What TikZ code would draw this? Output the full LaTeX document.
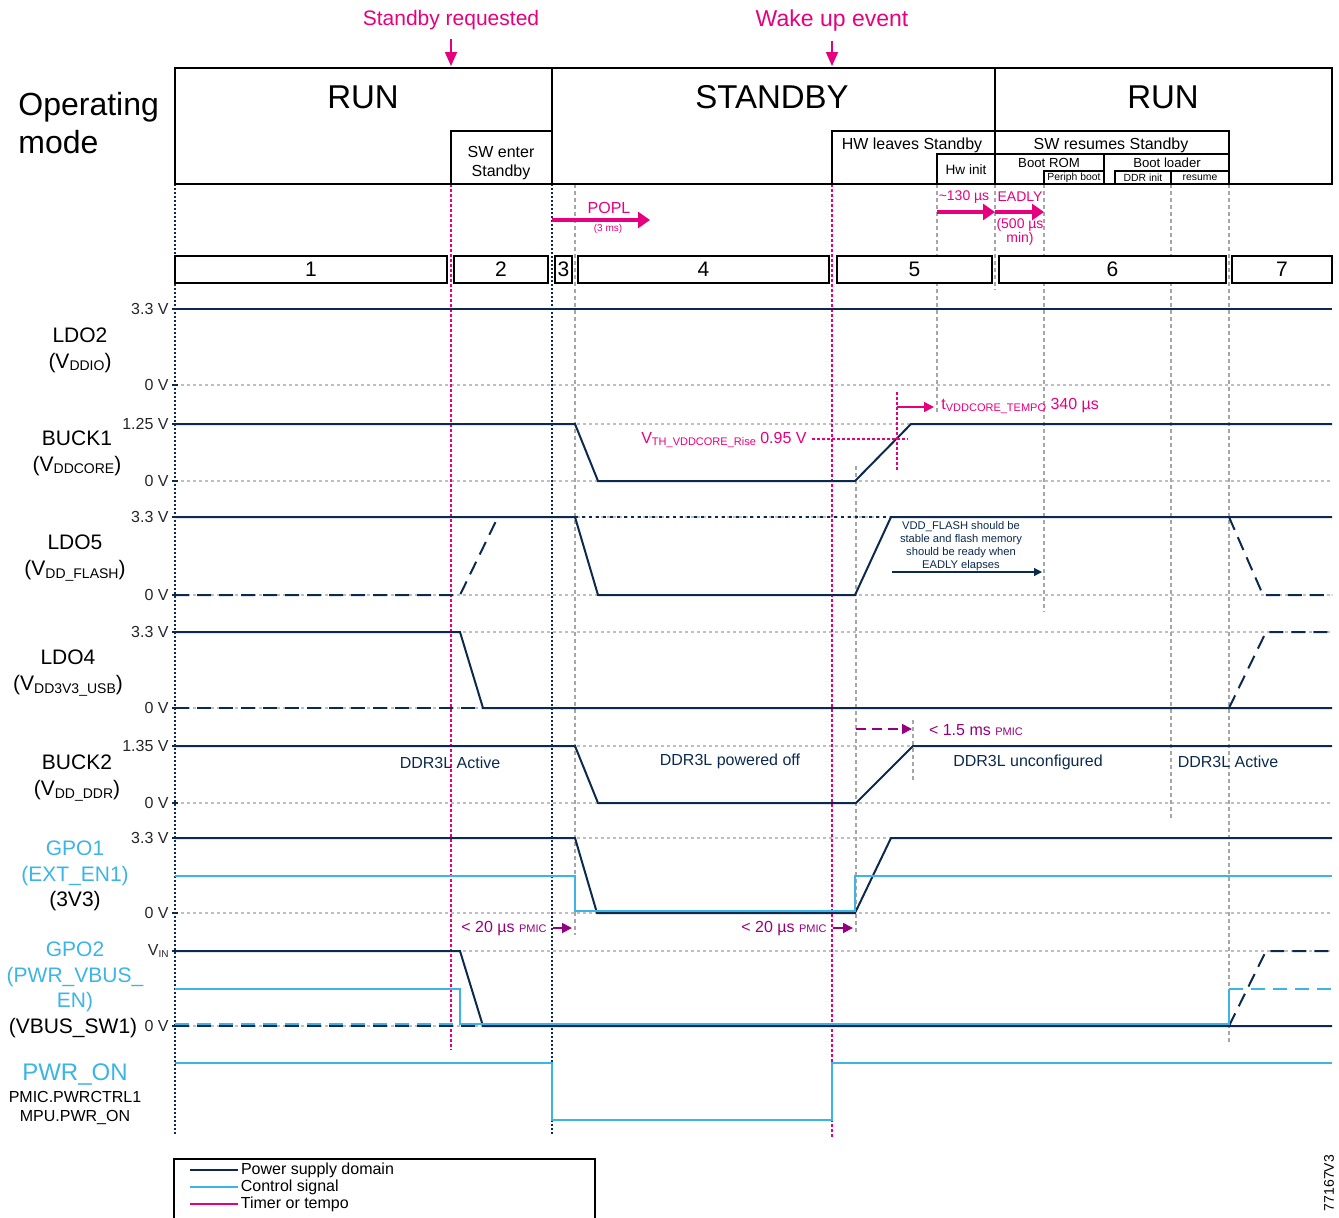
\documentclass[tikz,border=0pt]{standalone}
\usepackage{fontspec}
\setmainfont{Liberation Sans}
\usepackage{xcolor}
\usetikzlibrary{arrows.meta,positioning}

\definecolor{stnavy}{HTML}{0B2A4E}
\definecolor{stblue}{HTML}{3CB4E6}
\definecolor{stpink}{HTML}{E6007E}
\definecolor{stpurple}{HTML}{960080}

\newcommand\fs[2]{\fontsize{#1}{#2}\selectfont}
\newcommand\lo[2]{\raisebox{-0.12em}{\fontsize{#1}{#1}\selectfont #2}}
\newcommand\sm[2]{{\fontsize{#1}{#1}\selectfont #2}}

\begin{document}
\begin{tikzpicture}[
    x=0.5pt, y=-0.5pt,
    >=Latex,
    font=\fs{8}{9.5},
    mode/.style={draw, line width=0.9pt},
    phase/.style={draw, line width=0.9pt, fill=white, inner sep=0pt,
                  minimum height=13.5pt, font=\fs{10.5}{12}},
    big/.style={font=\fs{16.5}{19}},
    pwr/.style={stnavy, line width=1pt},
    pwrdash/.style={pwr, dash pattern=on 7pt off 4pt},
    ctl/.style={stblue, line width=0.9pt},
    ctldash/.style={ctl, dash pattern=on 7pt off 4pt},
    gridln/.style={gray!50, line width=0.6pt, dash pattern=on 1.5pt off 1.5pt},
    guide/.style={gray!70, line width=0.7pt, dash pattern=on 2pt off 1.5pt},
    axis/.style={stnavy, line width=0.8pt, dash pattern=on 1pt off 1pt},
    evline/.style={stpink, line width=0.8pt, dash pattern=on 1.5pt off 1pt},
    evarr/.style={stpink, line width=0.9pt, -{Triangle[length=7pt,width=6pt]}},
    tmr/.style={stpink, line width=1.6pt, -{Triangle[length=6pt,width=8pt]}},
    thinarr/.style={stpink, line width=0.8pt, -{Triangle[length=5pt,width=5pt]}},
    pmic/.style={stpurple, font=\fs{8}{9}},
    pmicarr/.style={stpurple, line width=0.9pt, -{Triangle[length=5pt,width=5pt]}},
    volt/.style={anchor=east, inner sep=1pt, font=\fs{8}{9}, black!85},
    sname/.style={align=center, font=\fs{10.5}{13}},
    ddr/.style={stnavy, font=\fs{8}{9}},
    tiny/.style={font=\fs{5.2}{6}, inner sep=0pt}
]
\useasboundingbox (0,0) rectangle (1339,1217);
% --- grid and guides -------------------------------------------------
\foreach \gy in {385,424,481,517,595,632,708,746,803,838,913,951,1026}
    \draw[gridln] (175,\gy) -- (1332,\gy);
\draw[guide] (575,184) -- (575,935);
\draw[guide] (856,466) -- (856,935);
\draw[guide] (937,184) -- (937,412);
\draw[guide] (995,184) -- (995,290);
\draw[guide] (1044,184) -- (1044,612);
\draw[guide] (1171,184) -- (1171,820);
\draw[guide] (1229,184) -- (1229,1045);
\draw[guide] (913,720) -- (913,780);
\draw[axis] (175,184) -- (175,1135);
\draw[axis] (552,184) -- (552,1135);
\draw[evline] (451,184) -- (451,1050);
\draw[evline] (832,184) -- (832,1137);
% --- operating mode header -------------------------------------------
\node[anchor=west, align=left, inner sep=0pt, font=\fs{16}{19}] (opmode) at (18,123) {Operating\\mode};
\draw[mode] (175,68) rectangle (1332,184);
\draw[mode] (552,68) -- (552,184);
\draw[mode] (995,68) -- (995,184);
\draw[mode] (451,131) rectangle (552,184);
\draw[mode] (832,131) rectangle (995,184);
\draw[mode] (937,154) rectangle (995,184);
\draw[mode] (995,131) rectangle (1229,184);
\draw[mode] (995,154) -- (1229,154);
\draw[mode] (1104,154) -- (1104,184);
\draw[mode] (1044,171) rectangle (1104,184);
\draw[mode] (1115,171) rectangle (1229,184);
\draw[mode] (1171,171) -- (1171,184);
\node[big] (run1) at (363,97) {RUN};
\node[big] (stby) at (772,97) {STANDBY};
\node[big] (run2) at (1163,97) {RUN};
\node[align=center, font=\fs{8}{9.5}] (swenter) at (501,163) {SW enter\\Standby};
\node (hwleave) at (912,145) {HW leaves Standby};
\node[font=\fs{6.8}{8}] (hwinit) at (966,170) {Hw init};
\node (swres) at (1111,145) {SW resumes Standby};
\node[font=\fs{6.6}{8}] (bootrom) at (1049,162.5) {Boot ROM};
\node[font=\fs{6.6}{8}] (bootldr) at (1167,162.5) {Boot loader};
\node[tiny] (periph) at (1074,178) {Periph boot};
\node[tiny] (ddrinit) at (1143,178) {DDR init};
\node[tiny] (resume) at (1200,178) {resume};
% --- events ----------------------------------------------------------
\node[stpink, font=\fs{10.5}{12}] (sbreq) at (451,20) {Standby requested};
\node[stpink, font=\fs{11.5}{13}] (wake) at (832,21) {Wake up event};
\coordinate (sbtip) at (451,66);
\coordinate (wktip) at (832,66);
\draw[evarr, shorten <=1pt] (sbreq.south) -- (sbtip);
\draw[evarr, shorten <=1pt] (wake.south) -- (wktip);
% --- timers ----------------------------------------------------------
\draw[tmr] (552,220) -- (650,220);
\node[stpink] (popl) at (609,208) {POPL};
\node[stpink, font=\fs{5}{6}] (popltime) at (608,229) {(3 ms)};
\draw[tmr] (937,212) -- (995,212);
\draw[tmr] (995,212) -- (1044,212);
\node[stpink, font=\fs{7}{8}] (hwtime) at (964,197) {\textasciitilde130 µs};
\node[stpink, font=\fs{7}{8}] (eadly) at (1020,197) {EADLY};
\node[stpink, align=center, font=\fs{7}{7}] (eadlymin) at (1020,232) {(500 µs\\min)};
% --- phases ----------------------------------------------------------
\foreach \i/\cx/\w in {1/311/136, 2/501/47, 3/563.5/8.5, 4/703.5/125.5,
                       5/914.5/77.5, 6/1112.5/113.5, 7/1282/50}
    \node[phase, minimum width=\w pt] (p\i) at (\cx,269.5) {\i};
% --- signal names and levels -----------------------------------------
\node[sname] (ldo2) at (80,350) {LDO2\\(V\lo{7}{DDIO})};
\node[sname] (buck1) at (77,453) {BUCK1\\(V\lo{7}{DDCORE})};
\node[sname] (ldo5) at (75,558) {LDO5\\(V\lo{7}{DD\_FLASH})};
\node[sname] (ldo4) at (68,673) {LDO4\\(V\lo{7}{DD3V3\_USB})};
\node[sname] (buck2) at (77,778) {BUCK2\\(V\lo{7}{DD\_DDR})};
\node[sname, font=\fs{10.5}{12.75}] (gpo1) at (75,876)
    {\textcolor{stblue}{GPO1}\\\textcolor{stblue}{(EXT\_EN1)}\\(3V3)};
\node[sname, stblue, font=\fs{10.5}{12.75}] (gpo2) at (75,977) {GPO2\\(PWR\_VBUS\_\\EN)};
\node[sname] (vbus) at (73,1028) {(VBUS\_SW1)};
\node[stblue, font=\fs{12}{13}] (pwron) at (75,1074) {PWR\_ON};
\node[align=center, font=\fs{8}{9.5}] (pwronsub) at (75,1108) {PMIC.PWRCTRL1\\MPU.PWR\_ON};
\foreach \vy/\vt in {309/3.3 V, 385/0 V, 424/1.25 V, 481/0 V, 517/3.3 V, 595/0 V,
                     632/3.3 V, 708/0 V, 746/1.35 V, 803/0 V, 838/3.3 V, 913/0 V,
                     951/{V\lo{5}{IN}}, 1026/0 V}{
    \node[volt] (v\vy) at (171,\vy) {\vt};
    \draw[stnavy, line width=0.8pt] (172,\vy) -- (178,\vy);
}
% --- LDO2 ------------------------------------------------------------
\draw[pwr] (175,309) -- (1332,309);
% --- BUCK1 -----------------------------------------------------------
\draw[pwr] (175,424) -- (575,424) -- (598,481) -- (855,481) -- (911,424) -- (1332,424);
\draw[evline] (812,439) -- (908,439);
\draw[evline] (897,392) -- (897,470);
\node[anchor=east, stpink, inner sep=1pt] (vth) at (809,440) {V\lo{5.5}{TH\_VDDCORE\_Rise} 0.95 V};
\draw[thinarr] (897,407) -- (934,407);
\node[anchor=west, stpink, inner sep=1pt] (tempo) at (939,406) {t\lo{5.5}{VDDCORE\_TEMPO} 340 µs};
% --- LDO5 ------------------------------------------------------------
\draw[pwr] (175,517) -- (575,517) -- (598,595) -- (855,595) -- (891,517) -- (1332,517);
\draw[pwr, dash pattern=on 1.5pt off 2pt] (575,517) -- (891,517);
\draw[pwrdash] (175,595) -- (460,595) -- (497,519);
\draw[pwrdash] (1229,517) -- (1263,595) -- (1332,595);
\node[stnavy, align=center, font=\fs{5.6}{6.5}] (flashnote) at (961,546)
    {VDD\_FLASH should be\\stable and flash memory\\should be ready when\\EADLY elapses};
\draw[stnavy, line width=0.6pt, -{Triangle[length=4pt,width=4pt]}] (892,572) -- (1042,572);
% --- LDO4 ------------------------------------------------------------
\draw[pwr] (175,632) -- (460,632) -- (483,708) -- (1332,708);
\draw[pwrdash] (175,708) -- (483,708);
\draw[pwrdash] (1229,708) -- (1266,632) -- (1332,632);
% --- BUCK2 -----------------------------------------------------------
\draw[pwr] (175,746) -- (575,746) -- (598,803) -- (856,803) -- (913,746) -- (1332,746);
\node[ddr] (ddr1) at (450,763) {DDR3L Active};
\node[ddr] (ddr2) at (730,761) {DDR3L powered off};
\node[ddr] (ddr3) at (1028,762) {DDR3L unconfigured};
\node[ddr] (ddr4) at (1228,762) {DDR3L Active};
\draw[pmicarr, dash pattern=on 5pt off 3pt] (856,729) -- (912,729);
\node[pmic, anchor=west] (pmic15) at (922,730) {< 1.5 ms \sm{5.5}{PMIC}};
% --- GPO1 ------------------------------------------------------------
\draw[pwr] (175,838) -- (575,838) -- (597,913) -- (855,913) -- (891,838) -- (1332,838);
\draw[ctl] (175,876) -- (575,876) -- (575,911) -- (855,911) -- (855,876) -- (1332,876);
\node[pmic, anchor=east, inner sep=1pt] (pmic20a) at (549,929) {< 20 µs \sm{5.5}{PMIC}};
\draw[pmicarr] (553,928) -- (572,928);
\node[pmic, anchor=east, inner sep=1pt] (pmic20b) at (829,929) {< 20 µs \sm{5.5}{PMIC}};
\draw[pmicarr] (833,928) -- (853,928);
% --- GPO2 ------------------------------------------------------------
\draw[pwr] (175,951) -- (460,951) -- (483,1026) -- (1332,1026);
\draw[pwrdash] (175,1026) -- (483,1026);
\draw[pwrdash] (1229,1026) -- (1266,951) -- (1332,951);
\draw[ctl] (175,989) -- (460,989) -- (460,1024) -- (1229,1024) -- (1229,989);
\draw[ctldash] (175,1024) -- (460,1024);
\draw[ctldash] (1229,989) -- (1332,989);
% --- PWR_ON ----------------------------------------------------------
\draw[ctl] (175,1063) -- (552,1063) -- (552,1120) -- (832,1120) -- (832,1063) -- (1332,1063);
% --- legend ----------------------------------------------------------
\draw[line width=0.8pt] (174,1222) -- (174,1159) -- (595,1159) -- (595,1222);
\draw[pwr] (190,1170) -- (238,1170) node[right, black, inner sep=1pt] (lgpwr) {Power supply domain};
\draw[ctl] (190,1187) -- (238,1187) node[right, black, inner sep=1pt] (lgctl) {Control signal};
\draw[stpink, line width=0.9pt] (190,1204) -- (238,1204) node[right, black, inner sep=1pt] (lgtmr) {Timer or tempo};
\node[rotate=90, font=\fs{7}{8}] (figid) at (1329,1183) {77167V3};
\end{tikzpicture}
\end{document}
